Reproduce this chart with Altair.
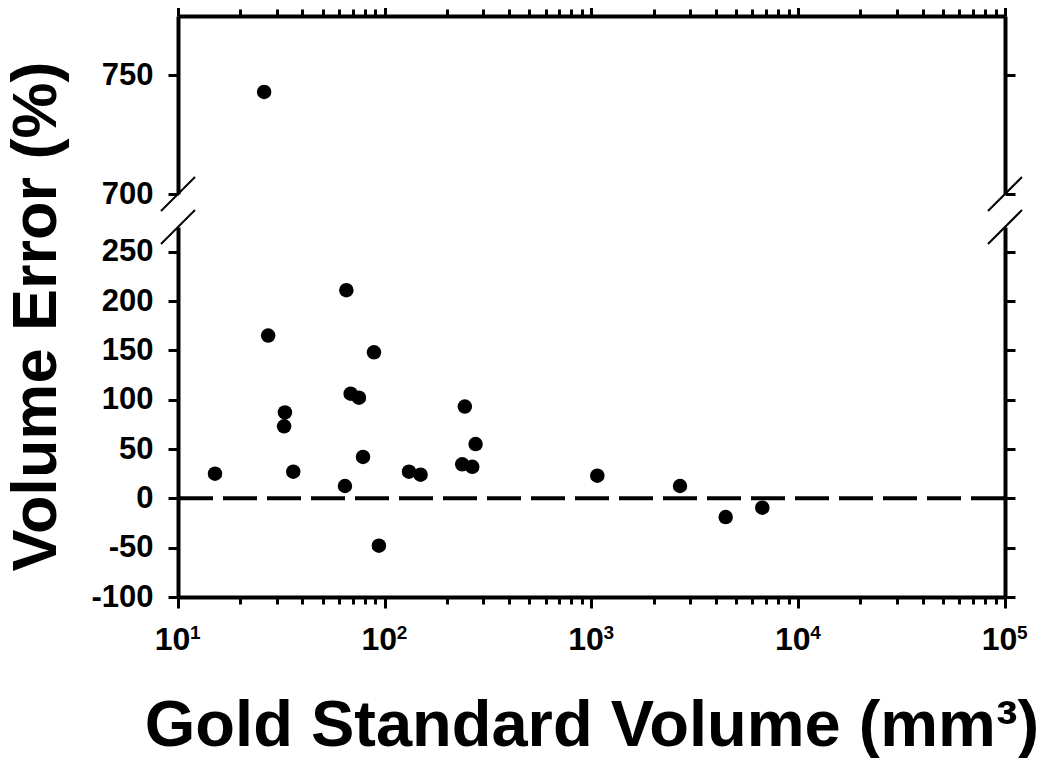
import altair as alt
import pandas as pd

# ---- data ----
volume = [15.1, 26.1, 27.3, 32.9, 32.6, 36.1, 65.2, 68.4, 75.0, 88.7, 78.5,
          64.2, 93.7, 131, 149, 244, 275, 237, 265, 1067, 2680, 4457, 6700]
error = [25, 743, 165, 87, 73, 27, 211, 106, 102, 148, 42,
         12.5, -48, 27, 24, 93, 55, 34.5, 32, 23, 12.5, -19, -9.5]

x_major = [10, 100, 1000, 10000, 100000]
x_exponents = ["1", "2", "3", "4", "5"]
x_minor = [m * 10 ** k for k in range(1, 5) for m in range(2, 10)]
x_ticks = sorted(x_major + x_minor)
y_ticks_top = [700, 750]
y_ticks_bottom = [-100, -50, 0, 50, 100, 150, 200, 250]
top_domain = [700, 775]
bottom_domain = [-100, 275]
x_domain = [10, 100000]
break_value = 700

df = pd.DataFrame({"volume": volume, "error": error})
zero_df = pd.DataFrame({"zero": [0]})
exp_df = pd.DataFrame({"decade": x_major, "exp": x_exponents})

W, H_TOP, H_BOT = 827, 178, 370
FONT = "Liberation Sans"
SL = 17  # half size of the break slashes

label_expr = ("abs(log(datum.value)/LN10 - round(log(datum.value)/LN10)) < 0.001 ? '10' : ''")
y_label_expr = "'' + datum.value"
major_test = "abs(log(datum.value)/LN10 - round(log(datum.value)/LN10)) < 0.001"
tick_cond = {"condition": {"test": major_test, "value": 11}, "value": 7}

common = dict(domainColor="black", domainWidth=4, tickColor="black", tickWidth=3,
              labelFont=FONT, labelFontWeight="bold", labelColor="black", grid=False)

x_scale = alt.Scale(type="log", domain=x_domain, nice=False)


def slash(x0, y0):
    return alt.Chart(alt.Data(values=[{}])).mark_rule(color="black", strokeWidth=2).encode(
        x=alt.value(x0 - SL), x2=alt.value(x0 + SL),
        y=alt.value(y0 + SL), y2=alt.value(y0 - SL))


# ---------- top panel ----------
top_scale = alt.Scale(domain=top_domain, nice=False, zero=False)
top_pts = alt.Chart(df).transform_filter(f"datum.error >= {break_value}").mark_circle(
    size=210, color="black", opacity=1).encode(
    x=alt.X("volume:Q", scale=x_scale,
            axis=alt.Axis(orient="top", values=x_ticks, labels=False, title=None,
                          tickSize=tick_cond, **common)),
    y=alt.Y("error:Q", scale=top_scale,
            axis=alt.Axis(orient="left", values=y_ticks_top, labelExpr=y_label_expr,
                          labelFontSize=31, tickSize=10, labelPadding=15, title=None,
                          **common)))
top_right = alt.Chart(df).transform_filter(f"datum.error >= {break_value}").mark_circle(
    opacity=0).encode(
    x=alt.X("volume:Q", scale=x_scale, axis=None),
    y=alt.Y("error:Q", scale=top_scale,
            axis=alt.Axis(orient="right", values=y_ticks_top, labels=False,
                          tickSize=10, title=None, **common)))
top = alt.layer(top_pts, top_right, slash(0, H_TOP), slash(W, H_TOP)).resolve_axis(
    x="independent", y="independent").properties(width=W, height=H_TOP)

# ---------- bottom panel ----------
bot_scale = alt.Scale(domain=bottom_domain, nice=False, zero=False)
zero_line = alt.Chart(zero_df).mark_rule(color="black", strokeWidth=4, strokeDash=[34, 10]).encode(
    y=alt.Y("zero:Q", scale=bot_scale, axis=None))
bot_pts = alt.Chart(df).transform_filter(f"datum.error < {break_value}").mark_circle(
    size=210, color="black", opacity=1).encode(
    x=alt.X("volume:Q", scale=x_scale,
            axis=alt.Axis(orient="bottom", values=x_ticks, labelExpr=label_expr,
                          labelFontSize=32, labelFlush=False, labelOverlap=False,
                          labelPadding=16, labelOffset=-6, tickSize=tick_cond,
                          title="Gold Standard Volume (mm\u00b3)", titleFont=FONT,
                          titleFontSize=65, titleFontWeight="bold", titleColor="black",
                          titlePadding=39, **common)),
    y=alt.Y("error:Q", scale=bot_scale,
            axis=alt.Axis(orient="left", values=y_ticks_bottom, labelExpr=y_label_expr,
                          labelFontSize=31, tickSize=10, labelPadding=15,
                          title="Volume Error (%)",
                          titleFont=FONT, titleFontSize=63, titleFontWeight="bold",
                          titleColor="black", titleAngle=270, titleAlign="center",
                          titleBaseline="alphabetic", titleX=-123, titleY=89, **common)))
bot_right = alt.Chart(df).transform_filter(f"datum.error < {break_value}").mark_circle(
    opacity=0).encode(
    x=alt.X("volume:Q", scale=x_scale, axis=None),
    y=alt.Y("error:Q", scale=bot_scale,
            axis=alt.Axis(orient="right", values=y_ticks_bottom, labels=False,
                          tickSize=10, title=None, **common)))
exp_text = alt.Chart(exp_df).mark_text(
    font=FONT, fontWeight="bold", fontSize=19, color="black", align="left",
    baseline="alphabetic", dx=12).encode(
    x=alt.X("decade:Q", scale=x_scale, axis=None),
    y=alt.value(H_BOT + 42),
    text="exp:N")
bottom = alt.layer(zero_line, bot_pts, bot_right, exp_text, slash(0, 0), slash(W, 0)).resolve_axis(
    x="independent", y="independent").properties(width=W, height=H_BOT)

chart = alt.vconcat(top, bottom, spacing=33, bounds="flush").properties(
    padding={"left": -4, "top": -5, "right": 0, "bottom": 0},
    background="white"
).configure_view(stroke="transparent", strokeWidth=0)

chart.save("out.html", embed_options={"renderer": "svg", "actions": False})
